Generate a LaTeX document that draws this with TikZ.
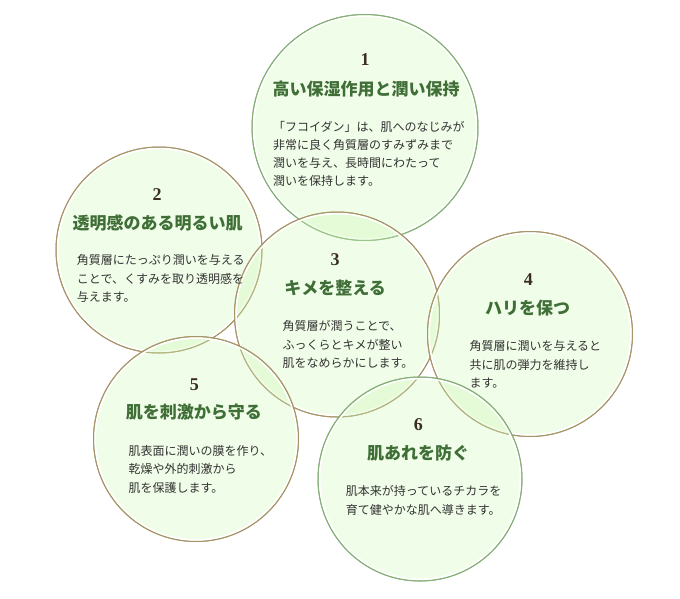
\documentclass[tikz,border=0pt]{standalone}
\usepackage{fontspec}
\setmainfont{Liberation Serif}
\newfontfamily\jpfont{Noto Sans CJK JP}
\usepackage{tikz}

\definecolor{bubblefill}{HTML}{CDF8B2}
\definecolor{edgegreen}{HTML}{86AE78}
\definecolor{edgetan}{HTML}{A8956B}
\definecolor{titlegreen}{HTML}{3F6E37}
\definecolor{numbrown}{HTML}{3A2E22}
\definecolor{bodygray}{HTML}{333333}

\begin{document}
\begin{tikzpicture}[x=1pt,y=-1pt,line cap=round,line join=round,
  bubble/.style={circle,inner sep=0pt,fill=bubblefill,fill opacity=.3,line width=1pt},
  ring/.style={draw=white,line width=1.6pt},
  num/.style={font=\fontsize{18}{18}\selectfont\bfseries,text=numbrown,inner sep=0pt},
  title/.style={font=\jpfont\fontsize{17}{17}\selectfont\bfseries,text=titlegreen,inner sep=0pt},
  body/.style={font=\jpfont\fontsize{12}{18.2}\selectfont,text=bodygray,align=left,anchor=north west,inner sep=0pt}]
\path[use as bounding box] (0,0) rectangle (680,598);
% circles
\node[bubble,draw=edgegreen,minimum size=226pt] (bubble1) at (365,127.5) {};
\draw[ring] (bubble1.center) circle (111.4);
\draw[edgegreen,line width=1pt] (bubble1.center) circle (113);
\node[bubble,draw=edgetan,minimum size=206pt] (bubble2) at (159,250) {};
\draw[ring] (bubble2.center) circle (101.4);
\draw[edgetan,line width=1pt] (bubble2.center) circle (103);
\node[bubble,draw=edgetan,minimum size=205pt] (bubble3) at (337,314.5) {};
\draw[ring] (bubble3.center) circle (100.9);
\draw[edgetan,line width=1pt] (bubble3.center) circle (102.5);
\node[bubble,draw=edgetan,minimum size=205pt] (bubble4) at (530,334) {};
\draw[ring] (bubble4.center) circle (100.9);
\draw[edgetan,line width=1pt] (bubble4.center) circle (102.5);
\node[bubble,draw=edgetan,minimum size=205pt] (bubble5) at (196,439) {};
\draw[ring] (bubble5.center) circle (100.9);
\draw[edgetan,line width=1pt] (bubble5.center) circle (102.5);
\node[bubble,draw=edgegreen,minimum size=204pt] (bubble6) at (420,479) {};
\draw[ring] (bubble6.center) circle (100.4);
\draw[edgegreen,line width=1pt] (bubble6.center) circle (102);
% 1
\node[num] (num1) at (365,60) {1};
\node[title] (title1) at (366,89) {高い保湿作用と潤い保持};
\node[body] (body1) at (273,121) {「フコイダン」は、肌へのなじみが\\非常に良く角質層のすみずみまで\\潤いを与え、長時間にわたって\\潤いを保持します。};
% 2
\node[num] (num2) at (157,195) {2};
\node[title] (title2) at (157.5,223.3) {透明感のある明るい肌};
\node[body] (body2) at (76.7,254.5) {角質層にたっぷり潤いを与える\\ことで、くすみを取り透明感を\\与えます。};
% 3
\node[num] (num3) at (335,259.3) {3};
\node[title] (title3) at (335,288.3) {キメを整える};
\node[body] (body3) at (282.3,320.5) {角質層が潤うことで、\\ふっくらとキメが整い\\肌をなめらかにします。};
% 4
\node[num] (num4) at (528.3,279.3) {4};
\node[title] (title4) at (527.5,308.3) {ハリを保つ};
\node[body] (body4) at (469.3,340.5) {角質層に潤いを与えると\\共に肌の弾力を維持し\\ます。};
% 5
\node[num] (num5) at (194.3,384.3) {5};
\node[title] (title5) at (193.8,412.3) {肌を刺激から守る};
\node[body] (body5) at (128.3,445.5) {肌表面に潤いの膜を作り、\\乾燥や外的刺激から\\肌を保護します。};
% 6
\node[num] (num6) at (418.3,425) {6};
\node[title] (title6) at (418,453.3) {肌あれを防ぐ};
\node[body] (body6) at (345.7,485.5) {肌本来が持っているチカラを\\育て健やかな肌へ導きます。};
\end{tikzpicture}
\end{document}
